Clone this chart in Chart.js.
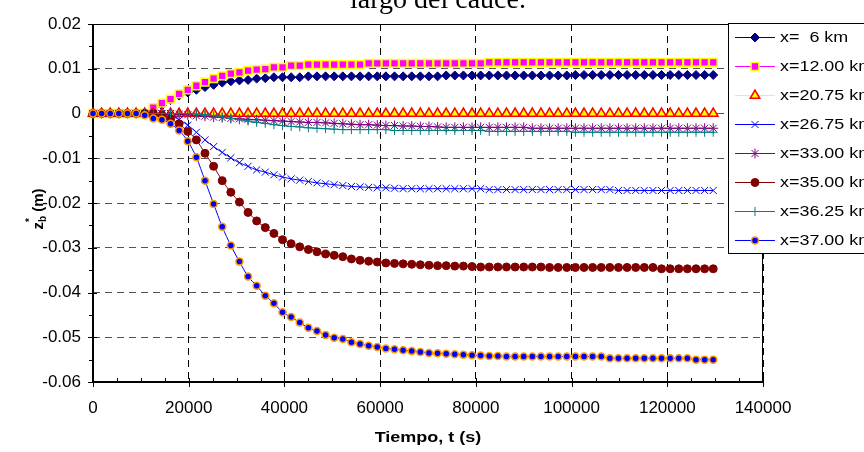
<!DOCTYPE html>
<html>
<head>
<meta charset="utf-8">
<script src="https://cdn.jsdelivr.net/npm/chart.js@4.4.0/dist/chart.umd.min.js"></script>
<style>
  html, body { margin: 0; padding: 0; background: #fff; }
  #wrap { width: 864px; height: 452px; }
</style>
</head>
<body>
<div id="wrap"><canvas id="chart" width="864" height="452"></canvas></div>
<script>
// time in seconds
const times = [0, 1800, 3600, 5400, 7200, 9000, 10800, 12600, 14400, 16200,
  18000, 19800, 21600, 23400, 25200, 27000, 28800, 30600, 32400, 34200,
  36000, 37800, 39600, 41400, 43200, 45000, 46800, 48600, 50400, 52200,
  54000, 55800, 57600, 59400, 61200, 63000, 64800, 66600, 68400, 70200,
  72000, 73800, 75600, 77400, 79200, 81000, 82800, 84600, 86400, 88200,
  90000, 91800, 93600, 95400, 97200, 99000, 100800, 102600, 104400, 106200,
  108000, 109800, 111600, 113400, 115200, 117000, 118800, 120600, 122400, 124200,
  126000, 127800, 129600];

// z_b* (m) per station
const x6 = [0, 0, 0, 0, 0, 0, 0, 0.0008, 0.0018, 0.0030,
  0.0040, 0.0047, 0.0053, 0.0059, 0.0064, 0.0069, 0.0072, 0.0074, 0.0075, 0.0078,
  0.0079, 0.0081, 0.0081, 0.0081, 0.0081, 0.0083, 0.0083, 0.0083, 0.0083, 0.0083,
  0.0083, 0.0083, 0.0083, 0.0083, 0.0083, 0.0083, 0.0083, 0.0083, 0.0083, 0.0083,
  0.0083, 0.0085, 0.0085, 0.0085, 0.0085, 0.0085, 0.0085, 0.0085, 0.0085, 0.0085,
  0.0085, 0.0085, 0.0085, 0.0085, 0.0085, 0.0085, 0.0086, 0.0086, 0.0086, 0.0086,
  0.0086, 0.0086, 0.0086, 0.0086, 0.0086, 0.0086, 0.0086, 0.0086, 0.0086, 0.0086,
  0.0086, 0.0086, 0.0086];
const x12 = [0, 0, 0, 0, 0, 0, 0, 0.0013, 0.0023, 0.0032,
  0.0044, 0.0053, 0.0062, 0.0070, 0.0078, 0.0084, 0.0089, 0.0092, 0.0096, 0.0098,
  0.0099, 0.0103, 0.0103, 0.0107, 0.0107, 0.0109, 0.0109, 0.0109, 0.0109, 0.0109,
  0.0109, 0.0109, 0.0112, 0.0112, 0.0112, 0.0112, 0.0112, 0.0112, 0.0112, 0.0112,
  0.0112, 0.0112, 0.0112, 0.0112, 0.0112, 0.0112, 0.0114, 0.0114, 0.0114, 0.0114,
  0.0114, 0.0114, 0.0114, 0.0114, 0.0114, 0.0114, 0.0114, 0.0114, 0.0114, 0.0114,
  0.0114, 0.0114, 0.0114, 0.0114, 0.0114, 0.0114, 0.0114, 0.0114, 0.0114, 0.0114,
  0.0114, 0.0114, 0.0114];
const x2075 = [0, 0, 0, 0, 0, 0, 0, 0, 0, 0,
  0, 0, 0, 0, 0, 0, 0, 0, 0, 0,
  0, 0, 0, 0, 0, 0, 0, 0, 0, 0,
  0, 0, 0, 0, 0, 0, 0, 0, 0, 0,
  0, 0, 0, 0, 0, 0, 0, 0, 0, 0,
  0, 0, 0, 0, 0, 0, 0, 0, 0, 0,
  0, 0, 0, 0, 0, 0, 0, 0, 0, 0,
  0, 0, 0];
const x2675 = [0, 0, 0, 0, 0, 0, 0, 0, 0, -0.0004,
  -0.0014, -0.0026, -0.0042, -0.0059, -0.0074, -0.0087, -0.0099, -0.0110, -0.0118, -0.0126,
  -0.0131, -0.0137, -0.0142, -0.0146, -0.0149, -0.0152, -0.0155, -0.0157, -0.0159, -0.0161,
  -0.0163, -0.0164, -0.0165, -0.0166, -0.0166, -0.0167, -0.0168, -0.0168, -0.0168, -0.0168,
  -0.0168, -0.0168, -0.0168, -0.0168, -0.0168, -0.0168, -0.0170, -0.0170, -0.0170, -0.0170,
  -0.0170, -0.0170, -0.0170, -0.0170, -0.0170, -0.0170, -0.0170, -0.0170, -0.0170, -0.0170,
  -0.0170, -0.0172, -0.0172, -0.0172, -0.0172, -0.0172, -0.0172, -0.0172, -0.0172, -0.0172,
  -0.0172, -0.0172, -0.0172];
const x33 = [0, 0, 0, 0, 0, 0, 0, 0, 0, 0,
  -0.0002, -0.0003, -0.0005, -0.0006, -0.0008, -0.0009, -0.0011, -0.0012, -0.0013, -0.0014,
  -0.0015, -0.0016, -0.0017, -0.0018, -0.0019, -0.0020, -0.0020, -0.0021, -0.0022, -0.0023,
  -0.0024, -0.0025, -0.0025, -0.0026, -0.0027, -0.0027, -0.0028, -0.0028, -0.0029, -0.0029,
  -0.0030, -0.0031, -0.0031, -0.0031, -0.0031, -0.0031, -0.0031, -0.0031, -0.0031, -0.0031,
  -0.0031, -0.0033, -0.0033, -0.0033, -0.0033, -0.0033, -0.0033, -0.0033, -0.0033, -0.0033,
  -0.0033, -0.0033, -0.0033, -0.0033, -0.0033, -0.0033, -0.0033, -0.0033, -0.0033, -0.0033,
  -0.0033, -0.0033, -0.0033];
const x35 = [0, 0, 0, 0, 0, 0, 0, 0, -0.0004, -0.0012,
  -0.0023, -0.0040, -0.0059, -0.0089, -0.0118, -0.0150, -0.0176, -0.0198, -0.0221, -0.0240,
  -0.0255, -0.0268, -0.0282, -0.0291, -0.0298, -0.0304, -0.0309, -0.0314, -0.0317, -0.0320,
  -0.0325, -0.0328, -0.0330, -0.0332, -0.0334, -0.0335, -0.0336, -0.0337, -0.0338, -0.0339,
  -0.0340, -0.0340, -0.0341, -0.0341, -0.0342, -0.0343, -0.0343, -0.0343, -0.0343, -0.0343,
  -0.0343, -0.0343, -0.0343, -0.0344, -0.0344, -0.0344, -0.0344, -0.0344, -0.0344, -0.0344,
  -0.0344, -0.0344, -0.0344, -0.0344, -0.0344, -0.0344, -0.0347, -0.0347, -0.0347, -0.0347,
  -0.0347, -0.0347, -0.0347];
const x3625 = [0, 0, 0, 0, 0, 0, 0, 0, 0, 0,
  0, 0, -0.0001, -0.0003, -0.0005, -0.0008, -0.0011, -0.0014, -0.0017, -0.0020,
  -0.0022, -0.0025, -0.0027, -0.0029, -0.0030, -0.0032, -0.0033, -0.0034, -0.0035, -0.0036,
  -0.0036, -0.0036, -0.0036, -0.0036, -0.0036, -0.0038, -0.0038, -0.0038, -0.0038, -0.0038,
  -0.0038, -0.0038, -0.0038, -0.0038, -0.0038, -0.0038, -0.0040, -0.0040, -0.0040, -0.0040,
  -0.0040, -0.0040, -0.0040, -0.0040, -0.0040, -0.0040, -0.0042, -0.0042, -0.0042, -0.0042,
  -0.0042, -0.0042, -0.0042, -0.0042, -0.0042, -0.0042, -0.0042, -0.0042, -0.0042, -0.0042,
  -0.0042, -0.0042, -0.0042];
const x37 = [0, 0, 0, 0, 0, 0, -0.0004, -0.0011, -0.0014, -0.0023,
  -0.0038, -0.0062, -0.0098, -0.0150, -0.0202, -0.0253, -0.0295, -0.0331, -0.0364, -0.0385,
  -0.0407, -0.0424, -0.0444, -0.0455, -0.0467, -0.0479, -0.0486, -0.0495, -0.0501, -0.0504,
  -0.0511, -0.0515, -0.0519, -0.0522, -0.0525, -0.0527, -0.0529, -0.0531, -0.0533, -0.0535,
  -0.0536, -0.0537, -0.0538, -0.0539, -0.0540, -0.0541, -0.0542, -0.0542, -0.0543, -0.0543,
  -0.0543, -0.0543, -0.0543, -0.0543, -0.0543, -0.0543, -0.0543, -0.0543, -0.0543, -0.0543,
  -0.0547, -0.0547, -0.0547, -0.0547, -0.0547, -0.0547, -0.0547, -0.0547, -0.0547, -0.0547,
  -0.0550, -0.0550, -0.0550];

const seriesNames = ["x=  6 km", "x=12.00 km", "x=20.75 km", "x=26.75 km",
  "x=33.00 km", "x=35.00 km", "x=36.25 km", "x=37.00 km"];
const seriesValues = [x6, x12, x2075, x2675, x33, x35, x3625, x37];

const xTicks = [0, 20000, 40000, 60000, 80000, 100000, 120000, 140000];
const yTicks = [0.02, 0.01, 0, -0.01, -0.02, -0.03, -0.04, -0.05, -0.06];

const chartTitle = "largo del cauce.";
const xTitle = "Tiempo, t (s)";

// marker look for each series (Excel defaults)
const looks = [
  { line: "#000080", style: "rectRot", r: 4.5, fill: "#000080", edge: "#000080", bw: 1 },
  { line: "#FF00FF", style: "rect", r: 5.5, fill: "#FF00FF", edge: "#FFFF00", bw: 1.5 },
  { line: "#FFFF00", style: "triangle", r: 5.5, fill: "#FFFF00", edge: "#FF0000", bw: 1.5 },
  { line: "#0000FF", style: "crossRot", r: 5, fill: "#0000FF", edge: "#0000FF", bw: 1 },
  { line: "#800080", style: "star", r: 5, fill: "#800080", edge: "#800080", bw: 1 },
  { line: "#800000", style: "circle", r: 4, fill: "#800000", edge: "#800000", bw: 1 },
  { line: "#008080", style: "cross", r: 4.5, fill: "#008080", edge: "#008080", bw: 1 },
  { line: "#0000FF", style: "circle", r: 3.5, fill: "#0000FF", edge: "#FF9900", bw: 1.5 }
];

const FONT = '"Liberation Sans", Arial, sans-serif';

const datasets = seriesValues.map((vals, i) => ({
  label: seriesNames[i],
  data: vals.map((v, k) => ({ x: times[k], y: v })),
  borderColor: looks[i].line,
  backgroundColor: looks[i].fill,
  borderWidth: 1,
  pointStyle: looks[i].style,
  pointRadius: looks[i].r,
  pointBackgroundColor: looks[i].fill,
  pointBorderColor: looks[i].edge,
  pointBorderWidth: looks[i].bw,
  cubicInterpolationMode: "monotone",
  clip: false,
  order: seriesValues.length - i
}));

const decor = {
  id: "decor",
  beforeDatasetsDraw(chart) {
    const { ctx, chartArea: a } = chart;
    const xs = chart.scales.x, ys = chart.scales.y;
    ctx.save();
    ctx.strokeStyle = "#000";
    ctx.lineWidth = 1;
    ctx.beginPath();
    ctx.moveTo(a.left, a.top + 0.5);
    ctx.lineTo(a.right, a.top + 0.5);
    ctx.moveTo(a.right - 0.5, a.top);
    ctx.lineTo(a.right - 0.5, a.bottom);
    ctx.stroke();

    // ticks
    ctx.beginPath();
    xTicks.forEach((v, k) => {
      const px = Math.round(xs.getPixelForValue(v)) + 0.5;
      ctx.moveTo(px, a.bottom - 4);
      ctx.lineTo(px, a.bottom + 5);
      if (k < xTicks.length - 1) {
        for (let m = 1; m < 4; m++) {
          const q = Math.round(xs.getPixelForValue(v + (xTicks[k + 1] - v) * m / 4)) + 0.5;
          ctx.moveTo(q, a.bottom);
          ctx.lineTo(q, a.bottom - 4);
        }
      }
    });
    yTicks.forEach((v, k) => {
      const py = Math.round(ys.getPixelForValue(v)) + 0.5;
      ctx.moveTo(a.left - 5, py);
      ctx.lineTo(a.left + 4, py);
      if (k < yTicks.length - 1) {
        const q = Math.round(ys.getPixelForValue((v + yTicks[k + 1]) / 2)) + 0.5;
        ctx.moveTo(a.left - 4, q);
        ctx.lineTo(a.left, q);
      }
    });
    ctx.stroke();

    ctx.lineWidth = 2;
    ctx.beginPath();
    ctx.moveTo(a.left, a.top);
    ctx.lineTo(a.left, a.bottom);
    ctx.lineTo(a.right, a.bottom);
    ctx.stroke();
    ctx.restore();
  },
  afterDraw(chart) {
    const { ctx, chartArea: a } = chart;
    ctx.save();
    // title, cut off at the top like the original
    ctx.fillStyle = "#000";
    ctx.font = '28px "Liberation Serif", "Times New Roman", serif';
    ctx.textAlign = "center";
    ctx.textBaseline = "alphabetic";
    ctx.fillText(chartTitle, 438, 8);

    // x axis title (a little wide, as in the source image)
    ctx.save();
    ctx.translate((a.left + a.right) / 2, 438);
    ctx.scale(1.2, 1);
    ctx.font = "bold 15px " + FONT;
    ctx.textBaseline = "middle";
    ctx.fillText(xTitle, 0, 0);
    ctx.restore();

    // y axis title: z_b^* (m)
    ctx.translate(38, (a.top + a.bottom) / 2 + 6);
    ctx.rotate(-Math.PI / 2);
    ctx.textAlign = "left";
    ctx.textBaseline = "alphabetic";
    const big = "bold 15px " + FONT, small = "bold 10px " + FONT;
    ctx.font = big;
    const wz = ctx.measureText("z").width, wm = ctx.measureText(" (m)").width;
    ctx.font = small;
    const wb = ctx.measureText("b").width;
    let x0 = -(wz + wb + wm) / 2;
    ctx.font = big;
    ctx.fillText("z", x0, 5);
    ctx.font = small;
    ctx.fillText("b", x0 + wz, 8);
    ctx.fillText("*", x0 + wz, -5);
    ctx.font = big;
    ctx.fillText(" (m)", x0 + wz + wb, 5);
    ctx.restore();

    // legend box
    ctx.save();
    const lx = 728, ly = 23, lh = 230;
    ctx.fillStyle = "#fff";
    ctx.fillRect(lx, ly, 200, lh);
    ctx.strokeStyle = "#000";
    ctx.lineWidth = 1;
    ctx.strokeRect(lx + 0.5, ly + 0.5, 200, lh);
    chart.data.datasets.forEach((ds, i) => {
      const y = 37.5 + i * 29;
      ctx.strokeStyle = ds.borderColor;
      ctx.lineWidth = 1;
      ctx.beginPath();
      ctx.moveTo(735, y);
      ctx.lineTo(775, y);
      ctx.stroke();
      ctx.fillStyle = ds.pointBackgroundColor;
      ctx.strokeStyle = ds.pointBorderColor;
      ctx.lineWidth = ds.pointBorderWidth;
      Chart.helpers.drawPoint(ctx, {
        pointStyle: ds.pointStyle, radius: ds.pointRadius, rotation: 0,
        borderWidth: ds.pointBorderWidth
      }, 755, y);
      ctx.save();
      ctx.translate(780, y + 1);
      ctx.scale(1.28, 1);
      ctx.fillStyle = "#000";
      ctx.font = "14px " + FONT;
      ctx.textAlign = "left";
      ctx.textBaseline = "middle";
      ctx.fillText(seriesNames[i], 0, 0);
      ctx.restore();
    });
    ctx.restore();
  }
};

new Chart(document.getElementById("chart"), {
  type: "line",
  data: { datasets },
  options: {
    responsive: false,
    animation: false,
    events: [],
    layout: { padding: { top: 24, right: 101, left: 0, bottom: 0 } },
    plugins: { legend: { display: false }, tooltip: { enabled: false } },
    scales: {
      x: {
        type: "linear",
        min: 0,
        max: 140000,
        afterBuildTicks: s => { s.ticks = xTicks.map(v => ({ value: v })); },
        afterFit: s => { s.height = 70; },
        grid: { color: "#000", lineWidth: 1, drawTicks: false },
        border: { display: false, dash: [7, 5] },
        ticks: {
          color: "#000", font: { family: FONT, size: 17 }, padding: 16,
          maxRotation: 0, autoSkip: false,
          callback: v => String(v)
        }
      },
      y: {
        type: "linear",
        min: -0.06,
        max: 0.02,
        afterBuildTicks: s => { s.ticks = yTicks.map(v => ({ value: v })); },
        afterFit: s => { s.width = 93; },
        grid: { color: "#555", lineWidth: 1, drawTicks: false },
        border: { display: false, dash: [7, 5] },
        ticks: {
          color: "#000", font: { family: FONT, size: 17 }, padding: 12,
          autoSkip: false,
          callback: v => String(Number(v.toFixed(2)))
        }
      }
    }
  },
  plugins: [decor]
});
</script>
</body>
</html>
